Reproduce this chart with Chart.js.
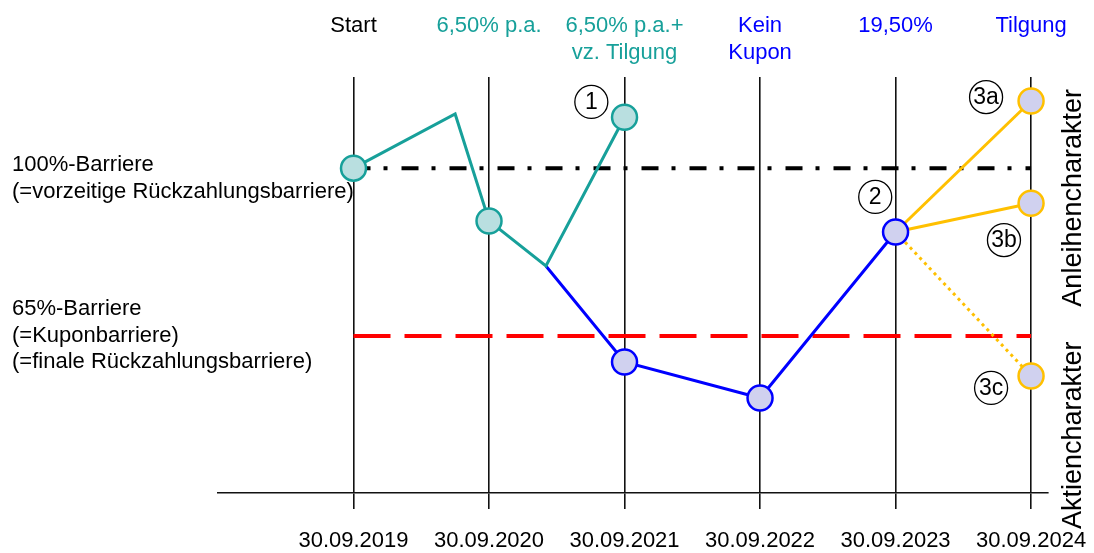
<!DOCTYPE html>
<html>
<head>
<meta charset="utf-8">
<script src="https://cdn.jsdelivr.net/npm/chart.js@4.4.1/dist/chart.umd.min.js"></script>
<style>
  html, body { margin: 0; padding: 0; background: #fff; }
</style>
</head>
<body>
<canvas id="myChart" width="1094" height="553"></canvas>
<script>
// observation dates (bottom) and what happens at each date (top)
let dates = ['30.09.2019', '30.09.2020', '30.09.2021', '30.09.2022', '30.09.2023', '30.09.2024'];
let events = [['Start'], ['6,50% p.a.'], ['6,50% p.a.+', 'vz. Tilgung'], ['Kein', 'Kupon'], ['19,50%'], ['Tilgung']];
let eventColors = ['#000000', '#17a09a', '#17a09a', '#0000ff', '#0000ff', '#0000ff'];

// price path in % of start level, x = years since start
let tealX = [0, 0.75, 1, 1.42, 2];
let tealY = [100, 111.3, 89, 79.6, 110.6];
let blueX = [1.42, 2, 3, 4];
let blueY = [79.6, 59.6, 52.1, 86.7];
let finalX = [4, 5];
let scenario3a = [86.7, 114];
let scenario3b = [86.7, 92.7];
let scenario3c = [86.7, 56.7];

let earlyBarrier = 100;
let finalBarrier = 65;

let barrierText = [
  { level: earlyBarrier, shift: -3, lines: ['100%-Barriere', '(=vorzeitige Rückzahlungsbarriere)'] },
  { level: finalBarrier, shift: -27, lines: ['65%-Barriere', '(=Kuponbarriere)', '(=finale Rückzahlungsbarriere)'] }
];
let markers = [
  { text: '1', x: 1.755, y: 113.8 },
  { text: '2', x: 3.85, y: 94 },
  { text: '3a', x: 4.668, y: 114.8 },
  { text: '3b', x: 4.8, y: 85 },
  { text: '3c', x: 4.705, y: 54.2 }
];

const FONT = '"Liberation Sans", Arial, sans-serif';
const teal = '#17a09a', tealFill = '#b9dfe0';
const blue = '#0000ff', lav = '#d0d1ef';
const gold = '#ffc000';

let pts = (xs, ys) => xs.map((x, i) => ({ x: x, y: ys[i] }));
let onDate = (ctx) => Number.isInteger(ctx.raw.x) ? 12.5 : 0;
let endOnly = (ctx) => ctx.dataIndex === 1 ? 12.5 : 0;

let notes = {
  id: 'notes',
  beforeDatasetsDraw(chart) {
    let c = chart.ctx, y = chart.scales.y;
    c.save();
    c.font = '22px ' + FONT;
    c.fillStyle = '#000';
    c.textBaseline = 'middle';
    barrierText.forEach(b => {
      let top = y.getPixelForValue(b.level) + b.shift;
      b.lines.forEach((t, i) => c.fillText(t, 12, top + i * 26.5));
    });
    c.restore();
  },
  afterDraw(chart) {
    let c = chart.ctx, x = chart.scales.x, y = chart.scales.y;
    c.save();
    c.strokeStyle = '#000';
    c.fillStyle = '#000';
    c.lineWidth = 1.3;
    c.textAlign = 'center';
    c.textBaseline = 'middle';
    c.font = '23px ' + FONT;
    markers.forEach(m => {
      let px = x.getPixelForValue(m.x), py = y.getPixelForValue(m.y);
      c.beginPath();
      c.arc(px, py, 16.5, 0, Math.PI * 2);
      c.stroke();
      c.fillText(m.text, px, py + 1);
    });
    // rotated labels on the right
    c.translate(1074, 0);
    c.rotate(-Math.PI / 2);
    c.font = '27px ' + FONT;
    c.textAlign = 'left';
    c.fillText('Aktiencharakter', -529, 0);
    c.textAlign = 'right';
    c.fillText('Anleihencharakter', -89, 0);
    c.restore();
  }
};

let ctx = document.getElementById('myChart').getContext('2d');

let myChart = new Chart(ctx, {
  type: 'line',
  data: {
    datasets: [
      {
        data: pts(tealX, tealY),
        borderColor: teal, borderWidth: 3,
        pointRadius: onDate, pointBackgroundColor: tealFill, pointBorderColor: teal, pointBorderWidth: 2.5
      },
      {
        data: pts(blueX, blueY),
        borderColor: blue, borderWidth: 3,
        pointRadius: onDate, pointBackgroundColor: lav, pointBorderColor: blue, pointBorderWidth: 2.5
      },
      {
        data: pts(finalX, scenario3a),
        borderColor: gold, borderWidth: 3,
        pointRadius: endOnly, pointBackgroundColor: lav, pointBorderColor: gold, pointBorderWidth: 2.5
      },
      {
        data: pts(finalX, scenario3b),
        borderColor: gold, borderWidth: 3,
        pointRadius: endOnly, pointBackgroundColor: lav, pointBorderColor: gold, pointBorderWidth: 2.5
      },
      {
        data: pts(finalX, scenario3c),
        borderColor: gold, borderWidth: 3, borderDash: [3, 4],
        pointRadius: endOnly, pointBackgroundColor: lav, pointBorderColor: gold, pointBorderWidth: 2.5
      },
      {
        data: [{ x: 0, y: earlyBarrier }, { x: 5, y: earlyBarrier }],
        borderColor: '#000', borderWidth: 4, borderDash: [17, 13, 4, 14],
        pointRadius: 0
      },
      {
        data: [{ x: 0, y: finalBarrier }, { x: 5, y: finalBarrier }],
        borderColor: '#ff0000', borderWidth: 4, borderDash: [37, 14],
        pointRadius: 0
      }
    ]
  },
  options: {
    responsive: false,
    devicePixelRatio: 1,
    animation: false,
    clip: false,
    layout: { padding: { left: 218, right: 46, top: 12, bottom: 0 } },
    elements: { line: { tension: 0 } },
    plugins: {
      legend: { display: false },
      tooltip: { enabled: false }
    },
    scales: {
      x: {
        type: 'linear', position: 'bottom', min: -1, max: 5.125,
        afterBuildTicks: (s) => { s.ticks = dates.map((d, i) => ({ value: i })); },
        // fixed box so the dates sit well below the axis
        afterFit: (s) => { s.height = 60; s.paddingRight = 0; },
        ticks: {
          callback: (v) => dates[v],
          color: '#000', font: { family: FONT, size: 22 }, padding: 19,
          maxRotation: 0, autoSkip: false
        },
        grid: { color: '#111', lineWidth: 1.6, tickLength: 16 },
        border: { display: true, color: '#111', width: 1.6 }
      },
      x2: {
        type: 'linear', position: 'top', min: -1, max: 5.125,
        afterBuildTicks: (s) => { s.ticks = events.map((d, i) => ({ value: i })); },
        afterFit: (s) => { s.height = 65; s.paddingRight = 0; },
        ticks: {
          callback: (v) => events[v],
          color: (c) => eventColors[c.index],
          font: { family: FONT, size: 22, lineHeight: 1.227 }, padding: 11,
          crossAlign: 'far', maxRotation: 0, autoSkip: false
        },
        grid: { display: false, drawTicks: false },
        border: { display: false }
      },
      y: {
        display: false, min: 32.3, max: 119
      }
    }
  },
  plugins: [notes]
});
</script>
</body>
</html>
